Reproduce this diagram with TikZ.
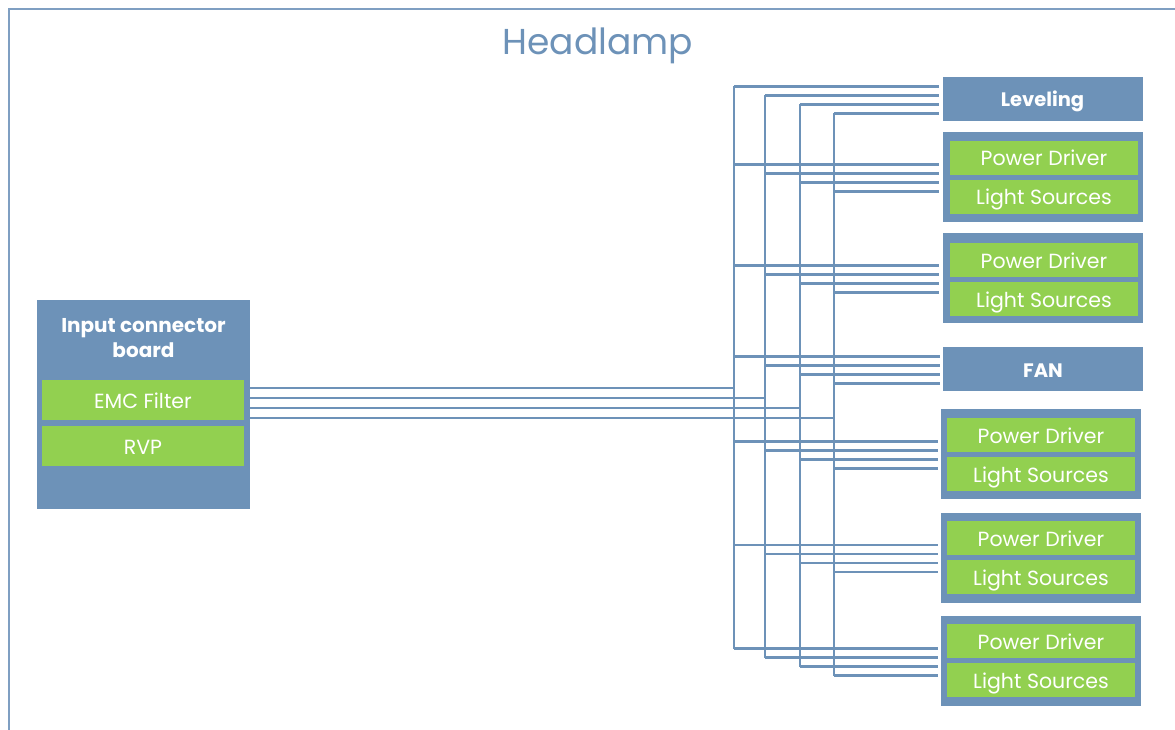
\documentclass[tikz,border=0pt]{standalone}
\usepackage{fontspec}
\setmainfont{Poppins}
\usetikzlibrary{calc}
\definecolor{boxblue}{HTML}{6D92B8}
\definecolor{boxgreen}{HTML}{92D050}
\definecolor{framblue}{HTML}{7F9FC2}
\tikzstyle{unit}=[fill=boxblue,text=white,minimum width=200pt,minimum height=44pt,inner sep=0pt,text height=16pt,text depth=0pt,font=\bfseries\fontsize{19.5}{23}\selectfont]
\tikzstyle{module}=[fill=boxblue,minimum width=200pt,minimum height=90pt,inner sep=0pt]
\tikzstyle{part}=[fill=boxgreen,text=white,minimum width=188pt,minimum height=34pt,inner sep=0pt,text height=16pt,text depth=0pt,font=\fontsize{20.5}{24}\selectfont]
\tikzstyle{wire}=[boxblue,line width=2.6pt]

\begin{document}
\begin{tikzpicture}[x=1pt,y=-1pt]
\useasboundingbox (0,0) rectangle (1175,730);
\draw[framblue, line width=2pt] (9,740) -- (9,9) -- (1185,9);
\node[text=boxblue, text height=28pt, text depth=0pt, font=\fontsize{36}{44}\selectfont] (title) at (598,41) {Headlamp};

% input side
\node[fill=boxblue, minimum width=213pt, minimum height=209pt, inner sep=0pt] (in) at (143.5,404.5) {};
\node[text=white, align=center, font=\bfseries\fontsize{20}{25}\selectfont] (intitle) at (143.5,338) {Input connector\\board};
\node[part, minimum width=202pt, minimum height=40pt] (emc) at (143,400) {EMC Filter};
\node[part, minimum width=202pt, minimum height=40pt] (rvp) at (143,446) {RVP};

% loads
\node[unit] (lev) at (1042.5,99) {Leveling};
\node[module] (m1) at (1042.5,177) {};
\node[part] (pd1) at (1044,158) {Power Driver};
\node[part] (ls1) at (1044,197) {Light Sources};
\node[module] (m2) at (1042.5,278) {};
\node[part] (pd2) at (1044,260) {Power Driver};
\node[part] (ls2) at (1044,299) {Light Sources};
\node[unit] (fan) at (1043,369) {FAN};
\node[module] (m3) at (1041,454) {};
\node[part] (pd3) at (1041,435) {Power Driver};
\node[part] (ls3) at (1041,474) {Light Sources};
\node[module] (m4) at (1041,557.5) {};
\node[part] (pd4) at (1041,538) {Power Driver};
\node[part] (ls4) at (1041,577) {Light Sources};
\node[module] (m5) at (1041,661) {};
\node[part] (pd5) at (1041,641) {Power Driver};
\node[part] (ls5) at (1041,680) {Light Sources};

% bus
\foreach \b/\bx/\dy/\iy in {1/734/-12.5/388, 2/765/-3.5/398, 3/800/5.5/408, 4/834/14.5/418} {
  \coordinate (bus\b) at (\bx,0);
  \draw[wire] (in.east |- 0,\iy) -- (bus\b |- 0,\iy);
  \path ($(lev.west)+(-3,\dy)$) coordinate (top\b) ($(m5.west)+(-3,\dy)$) coordinate (bot\b);
  \draw[wire] (top\b -| bus\b) -- (bot\b -| bus\b);
  \foreach \m in {lev,m1,m2,fan,m3,m4,m5} {
    \path ($(\m.west)+(-3,\dy)$) coordinate (end);
    \draw[wire] (end -| bus\b) -- (end);
  }
}
\end{tikzpicture}
\end{document}
